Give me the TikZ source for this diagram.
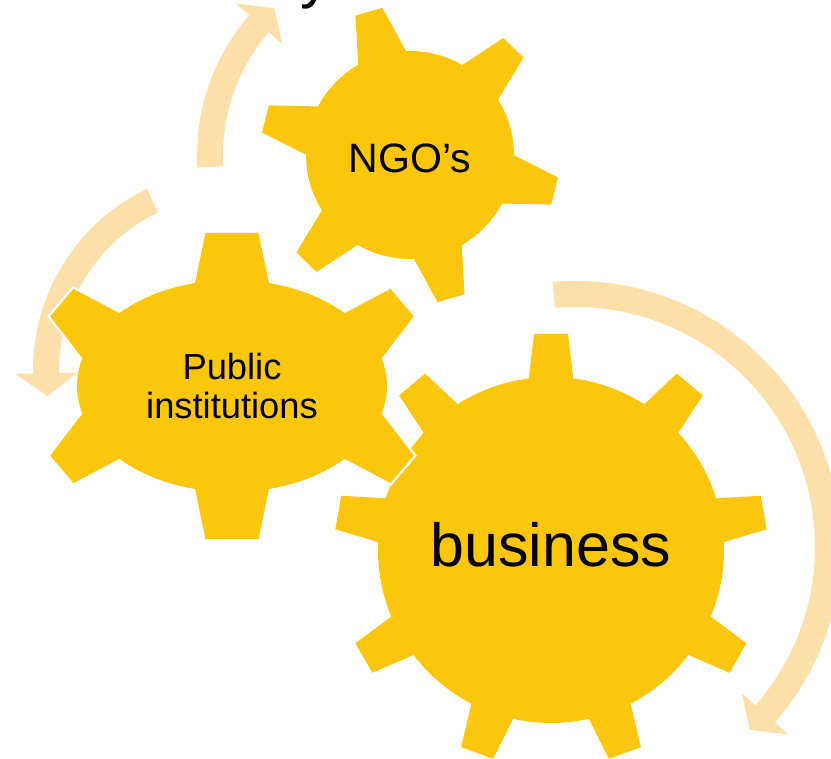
\documentclass[tikz,border=0pt]{standalone}
\usepackage{fontspec}
\setmainfont{Liberation Sans}
\definecolor{gearyellow}{RGB}{252,198,12}
\definecolor{arrowpeach}{RGB}{253,223,170}

% gear: body rx, ry, teeth angle/base/tip, tooth height
\newcommand{\gearbody}[5]{%
  \path [#1] (0,0) ellipse [x radius=#2, y radius=#3];
  \foreach \a/\wb/\wt in #4 {
    \pgfmathsetmacro\nrm{atan2(#2*sin(\a),#3*cos(\a))}
    \path [#1, shift={({#2*cos(\a)},{#3*sin(\a)})}, rotate=\nrm]
      (-8,-\wb) -- (#5,-\wt) -- (#5,\wt) -- (-8,\wb) -- cycle;
  }}
% bent arrow: radius, start, end, tip
\newcommand{\bendarrow}[4]{%
  \fill [arrowband] (#2:{#1+13}) arc [start angle=#2, end angle=#3, radius=#1+13]
    -- (#3:{#1+31}) -- (#4:#1) -- (#3:{#1-31}) -- (#3:{#1-13})
    arc [start angle=#3, end angle=#2, radius=#1-13] -- cycle;}

\begin{document}
\begin{tikzpicture}[x=0.03cm,y=0.03cm,
    gearline/.style={draw=white,line width=4pt},
    gearfill/.style={fill=gearyellow},
    arrowband/.style={fill=arrowpeach}]
  \useasboundingbox (0,0) rectangle (831,759);
  \clip (0,0) rectangle (831,759);
  % cut title
  \node (ttl) [anchor=base west,inner sep=0pt,font=\fontsize{52}{60}\selectfont] at (300,762) {y};
  % arrows
  \scope[shift={(410,604)}]
  \bendarrow{200}{183.4}{139}{132.8}
  \endscope
  \scope[shift={(234,389)}]
  \bendarrow{188}{115.7}{181}{188}
  \endscope
  \scope[shift={(575,212)}]
  \bendarrow{253}{94.8}{-41.3}{-46.3}
  \endscope
  % business
  \scope[shift={(551,209)}]
  \def\teeth{90/23/17,50/23/17,10/23/17,-30/23/17,-70/23/17,-110/23/17,-150/23/17,170/23/17,130/23/17}
  \gearbody{gearline}{173}{173}{\teeth}{43}
  \gearbody{gearfill}{173}{173}{\teeth}{43}
  \endscope
  % ngo
  \scope[shift={(410,604)}]
  \def\teeth{-14/26/14,46/26/14,106/26/14,166/26/14,226/26/14,286/26/14}
  \gearbody{gearline}{104}{104}{\teeth}{45}
  \gearbody{gearfill}{104}{104}{\teeth}{45}
  \endscope
  % public
  \scope[shift={(232,373)}]
  \def\teeth{90/38/26.5,270/38/26.5,30/30/18,150/30/18,210/30/18,330/30/18}
  \gearbody{gearline}{155}{106}{\teeth}{47}
  \gearbody{gearfill}{155}{106}{\teeth}{47}
  \endscope
  % labels
  \node (ngo) [font=\fontsize{35}{40}\selectfont] at (410,601) {NGO’s};
  \node (pub) [align=center,font=\fontsize{31}{33}\selectfont] at (232,373) {Public\\institutions};
  \node (biz) [font=\fontsize{52}{60}\selectfont] at (551,214) {business};
\end{tikzpicture}
\end{document}
